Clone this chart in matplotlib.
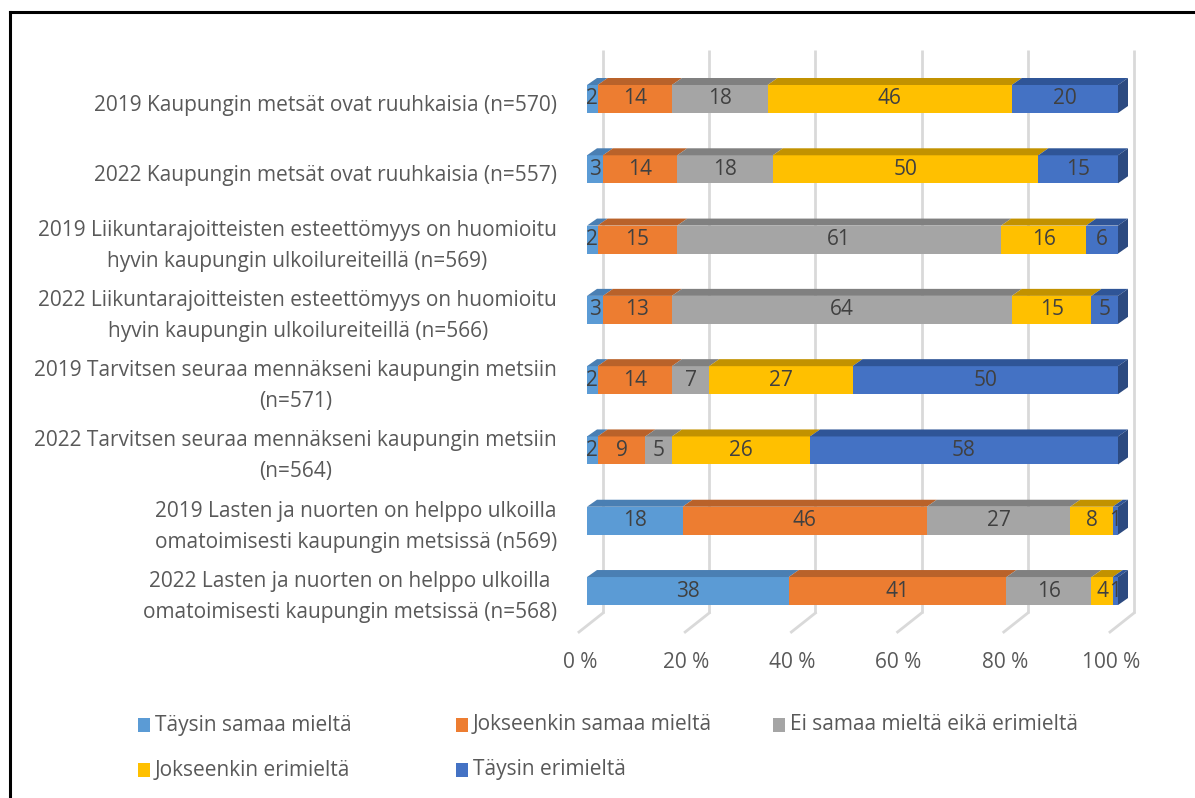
import matplotlib
matplotlib.use("Agg")
import matplotlib.pyplot as plt
from matplotlib.patches import Polygon, Rectangle
from matplotlib.lines import Line2D

plt.rcParams['font.family'] = ['Open Sans', 'DejaVu Sans']

categories = [
    "2019 Kaupungin metsät ovat ruuhkaisia (n=570)",
    "2022 Kaupungin metsät ovat ruuhkaisia (n=557)",
    "2019 Liikuntarajoitteisten esteettömyys on huomioitu\nhyvin kaupungin ulkoilureiteillä (n=569)",
    "2022 Liikuntarajoitteisten esteettömyys on huomioitu\nhyvin kaupungin ulkoilureiteillä (n=566)",
    "2019 Tarvitsen seuraa mennäkseni kaupungin metsiin\n(n=571)",
    "2022 Tarvitsen seuraa mennäkseni kaupungin metsiin\n(n=564)",
    "2019 Lasten ja nuorten on helppo ulkoilla\nomatoimisesti kaupungin metsissä (n569)",
    "2022 Lasten ja nuorten on helppo ulkoilla\nomatoimisesti kaupungin metsissä (n=568)",
]
series_names = ["Täysin samaa mieltä", "Jokseenkin samaa mieltä",
                "Ei samaa mieltä eikä erimieltä", "Jokseenkin erimieltä",
                "Täysin erimieltä"]
taysin_samaa = [2, 3, 2, 3, 2, 2, 18, 38]
jokseenkin_samaa = [14, 14, 15, 13, 14, 9, 46, 41]
ei_samaa_eika = [18, 18, 61, 64, 7, 5, 27, 16]
jokseenkin_eri = [46, 50, 16, 15, 27, 26, 8, 4]
taysin_eri = [20, 15, 6, 5, 50, 58, 1, 1]
series_values = [taysin_samaa, jokseenkin_samaa, ei_samaa_eika, jokseenkin_eri, taysin_eri]
tick_values = [0, 20, 40, 60, 80, 100]
tick_labels = ["0 %", "20 %", "40 %", "60 %", "80 %", "100 %"]

front_colors = ["#5b9bd5", "#ed7d31", "#a5a5a5", "#ffc000", "#4472c4"]
top_colors = ["#4a7fb3", "#b9622a", "#808080", "#c29200", "#2f5597"]
side_color = "#2c4a80"
FS = 15

W, H = 1195, 798
fig = plt.figure(figsize=(W / 100, H / 100), dpi=100)

# axes geometry (pixels)
x0_px, x1_px = 587, 1118
ytop_px, ybot_px = 50, 632
c0_px, cstep_px = 99, 70.29
ax = fig.add_axes([x0_px / W, 1 - ybot_px / H, (x1_px - x0_px) / W, (ybot_px - ytop_px) / H])
ax.set_xlim(0, 100)
ax.set_ylim((ybot_px - c0_px) / cstep_px, (ytop_px - c0_px) / cstep_px)
ax.axis('off')

pxx = (x1_px - x0_px) / 100.0
def dxp(px):
    return px / pxx
def ypx(py):
    return (py - c0_px) / cstep_px

# back wall gridlines and floor diagonals
back_off = dxp(16)
for t in tick_values:
    xb = t + back_off
    ax.plot([xb, xb], [ypx(ytop_px), ypx(613)], color="#d9d9d9", lw=2, zorder=1,
            clip_on=False, solid_capstyle='butt')
    ax.plot([xb, xb - dxp(24)], [ypx(613), ypx(632)], color="#d9d9d9", lw=2, zorder=1,
            clip_on=False)
for t, lab in zip(tick_values, tick_labels):
    ax.text(t - dxp(24) + back_off + dxp(1), ypx(663), lab, ha='center', va='center',
            fontsize=FS, color="#595959", clip_on=False)

# bars
n = len(categories)
ypos = list(range(n))
bar_h = 28 / cstep_px
ddx, ddy = dxp(10), 7 / cstep_px
left = [0.0] * n
for si, (vals, fc, tc) in enumerate(zip(series_values, front_colors, top_colors)):
    ax.barh(ypos, vals, left=left, height=bar_h, color=fc, edgecolor='none', zorder=3,
            label=series_names[si], clip_on=False)
    for i, v in enumerate(vals):
        l = left[i]
        r = l + v
        top = ypos[i] - bar_h / 2
        bot = ypos[i] + bar_h / 2
        ax.add_patch(Polygon([(l, top), (r, top), (r + ddx, top - ddy), (l + ddx, top - ddy)],
                             closed=True, facecolor=tc, edgecolor='none', zorder=3,
                             clip_on=False))
        if si == len(series_values) - 1:
            ax.add_patch(Polygon([(r, top), (r + ddx, top - ddy), (r + ddx, bot - ddy), (r, bot)],
                                 closed=True, facecolor=side_color, edgecolor='none', zorder=3,
                                 clip_on=False))
        ax.text(l + v / 2, ypos[i], str(v), ha='center', va='center', fontsize=FS,
                color="#404040", zorder=5, clip_on=False)
    left = [a + b for a, b in zip(left, vals)]

# category labels
for i, cat in enumerate(categories):
    ax.text(dxp(557 - x0_px), ypos[i] + 6 / cstep_px, cat, ha='right', va='center',
            multialignment='center', fontsize=FS, color="#595959", clip_on=False,
            linespacing=1.62)

# legend (manual, Excel-like layout)
leg_x = [138, 456, 773]
leg_y = [725, 770]
for k, (name, fc) in enumerate(zip(series_names, front_colors)):
    row, col = divmod(k, 3)
    sx, sy = leg_x[col], leg_y[row]
    fig.patches.append(Rectangle((sx / W, 1 - (sy + 7) / H), 12 / W, 14 / H,
                                 transform=fig.transFigure, facecolor=fc, edgecolor='none'))
    fig.text((sx + 17) / W, 1 - sy / H, name, ha='left', va='center', fontsize=FS,
             color="#595959")

# outer border (left and top visible)
fig.add_artist(Line2D([10 / W, 10 / W], [0, 1 - 12 / H], transform=fig.transFigure,
                      color='black', lw=2.2))
fig.add_artist(Line2D([10 / W, 1], [1 - 12 / H, 1 - 12 / H], transform=fig.transFigure,
                      color='black', lw=2.2))

fig.savefig("out.png", dpi=100, facecolor='white')
